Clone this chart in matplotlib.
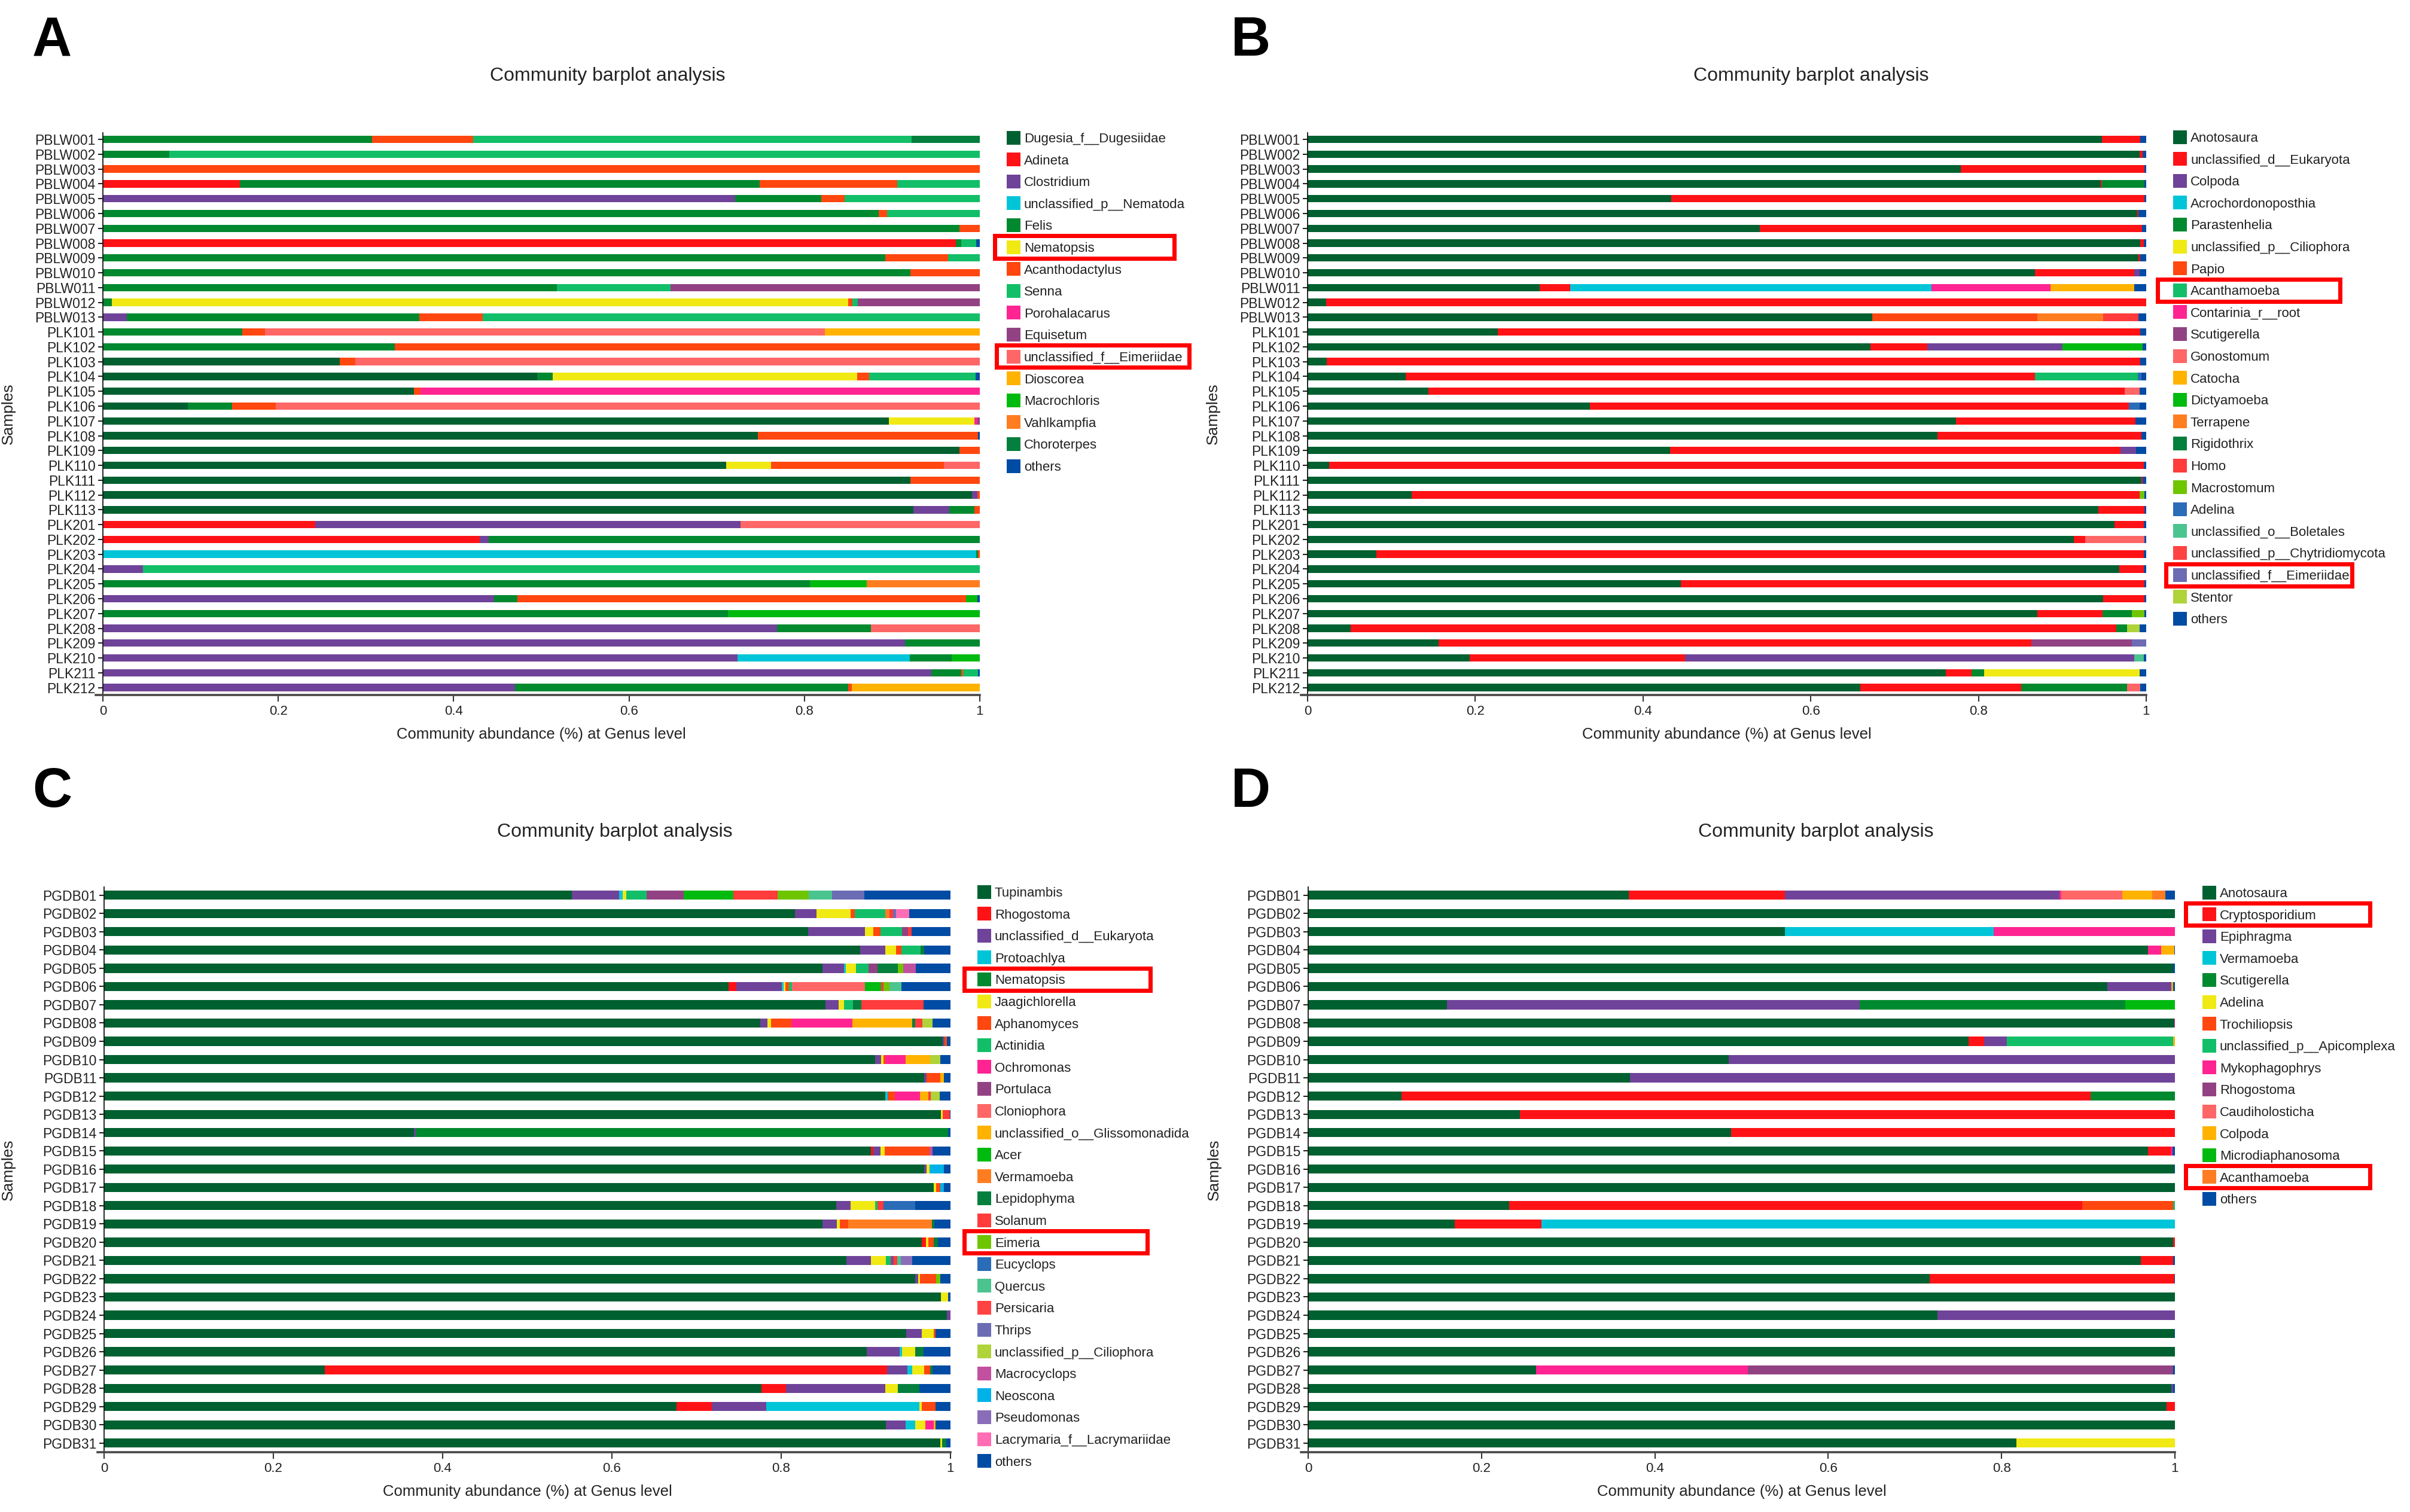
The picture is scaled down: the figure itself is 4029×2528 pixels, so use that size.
import matplotlib

matplotlib.use("Agg")
import matplotlib.pyplot as plt
import numpy as np
from matplotlib.patches import Rectangle

plt.rcParams["font.family"] = ["Liberation Sans", "DejaVu Sans"]

W, H = 4030, 2528

# shared colour order of the genus legends (last entry of every panel is "others")
PALETTE = [
    "#006030", "#FF1216", "#6F4399", "#00C5D8", "#00892F", "#F0E914", "#FF470F",
    "#12BF68", "#FF2492", "#924283", "#FF6666", "#FFB300", "#00BA10", "#FF7D21",
    "#047F3D", "#FF3B3B", "#6EC500", "#2B6CB8", "#4CC48F", "#FF4242", "#6C6CB5",
    "#AFD339", "#C3509F", "#00B2E8", "#8A6DB8", "#FF6EB4",
]
OTHERS_COLOR = "#004BA3"

# ---------------- panel A ----------------
A_SAMPLES = [f"PBLW{i:03d}" for i in range(1, 14)] + [f"PLK{i}" for i in range(101, 114)] + [f"PLK{i}" for i in range(201, 213)]
A_GENERA = [
    "Dugesia_f__Dugesiidae", "Adineta", "Clostridium", "unclassified_p__Nematoda", "Felis",
    "Nematopsis", "Acanthodactylus", "Senna", "Porohalacarus", "Equisetum",
    "unclassified_f__Eimeriidae", "Dioscorea", "Macrochloris", "Vahlkampfia", "Choroterpes", "others",
]
A_ABUND = [
    {4: .307, 6: .115, 7: .500, 14: .078},
    {4: .076, 7: .924},
    {6: 1.0},
    {1: .156, 4: .593, 6: .157, 7: .094},
    {2: .721, 4: .098, 6: .027, 7: .154},
    {4: .885, 6: .009, 7: .106},
    {4: .977, 6: .023},
    {1: .973, 4: .006, 7: .017, 15: .004},
    {4: .892, 6: .072, 7: .036},
    {4: .921, 6: .079},
    {4: .518, 7: .129, 9: .353},
    {4: .010, 5: .840, 6: .005, 7: .006, 9: .139},
    {2: .027, 4: .334, 6: .072, 7: .567},
    {4: .159, 6: .026, 10: .638, 11: .177},
    {4: .333, 6: .667},
    {0: .270, 6: .018, 10: .712},
    {0: .495, 4: .018, 5: .347, 6: .014, 7: .121, 15: .005},
    {0: .355, 6: .007, 8: .638},
    {0: .097, 4: .050, 6: .050, 10: .803},
    {0: .896, 5: .098, 8: .003, 9: .003},
    {0: .747, 6: .251, 15: .002},
    {0: .977, 6: .023},
    {0: .711, 5: .051, 6: .197, 10: .041},
    {0: .921, 6: .079},
    {0: .991, 2: .006, 6: .003},
    {0: .924, 2: .041, 4: .029, 6: .006},
    {1: .242, 2: .485, 10: .273},
    {1: .430, 2: .010, 4: .560},
    {3: .996, 4: .002, 6: .002},
    {2: .046, 7: .954},
    {4: .806, 12: .065, 13: .129},
    {2: .446, 4: .027, 6: .511, 12: .013, 15: .003},
    {4: .713, 12: .287},
    {2: .769, 4: .107, 10: .124},
    {2: .915, 4: .085},
    {2: .724, 3: .196, 4: .048, 12: .032},
    {2: .945, 4: .034, 6: .002, 7: .017, 15: .002},
    {2: .470, 4: .380, 6: .004, 11: .146},
]

# ---------------- panel B ----------------
B_SAMPLES = A_SAMPLES
B_GENERA = [
    "Anotosaura", "unclassified_d__Eukaryota", "Colpoda", "Acrochordonoposthia", "Parastenhelia",
    "unclassified_p__Ciliophora", "Papio", "Acanthamoeba", "Contarinia_r__root", "Scutigerella",
    "Gonostomum", "Catocha", "Dictyamoeba", "Terrapene", "Rigidothrix", "Homo", "Macrostomum",
    "Adelina", "unclassified_o__Boletales", "unclassified_p__Chytridiomycota",
    "unclassified_f__Eimeriidae", "Stentor", "others",
]
B_ABUND = [
    {0: .947, 1: .046, 22: .007},
    {0: .992, 1: .004, 22: .004},
    {0: .779, 1: .219, 22: .002},
    {0: .946, 1: .001, 4: .051, 22: .002},
    {0: .434, 1: .564, 22: .002},
    {0: .989, 1: .002, 22: .009},
    {0: .539, 1: .456, 22: .005},
    {0: .993, 1: .004, 22: .003},
    {0: .991, 1: .002, 22: .007},
    {0: .867, 1: .119, 2: .006, 22: .008},
    {0: .277, 1: .036, 3: .431, 8: .142, 11: .100, 22: .014},
    {0: .022, 1: .978},
    {0: .673, 6: .197, 13: .079, 15: .042, 22: .009},
    {0: .227, 1: .766, 22: .007},
    {0: .671, 1: .068, 2: .161, 12: .096, 22: .004},
    {0: .023, 1: .970, 22: .007},
    {0: .117, 1: .750, 7: .123, 17: .004, 22: .006},
    {0: .144, 1: .830, 10: .018, 22: .008},
    {0: .337, 1: .642, 17: .013, 22: .008},
    {0: .773, 1: .214, 22: .013},
    {0: .751, 1: .243, 22: .006},
    {0: .432, 1: .537, 2: .019, 22: .012},
    {0: .026, 1: .971, 22: .003},
    {0: .994, 1: .002, 22: .004},
    {0: .124, 1: .868, 16: .006, 22: .002},
    {0: .943, 1: .055, 22: .002},
    {0: .962, 1: .035, 22: .003},
    {0: .914, 1: .013, 10: .071, 22: .002},
    {0: .082, 1: .915, 22: .003},
    {0: .968, 1: .029, 22: .003},
    {0: .445, 1: .553, 22: .002},
    {0: .949, 1: .049, 22: .002},
    {0: .870, 1: .078, 4: .035, 16: .015, 22: .002},
    {0: .051, 1: .913, 4: .013, 21: .015, 22: .008},
    {0: .156, 1: .707, 9: .120, 20: .017},
    {0: .193, 1: .257, 2: .536, 18: .011, 22: .003},
    {0: .761, 1: .031, 4: .015, 5: .185, 22: .008},
    {0: .659, 1: .192, 4: .126, 10: .016, 22: .007},
]

# ---------------- panel C ----------------
C_SAMPLES = [f"PGDB{i:02d}" for i in range(1, 32)]
C_GENERA = [
    "Tupinambis", "Rhogostoma", "unclassified_d__Eukaryota", "Protoachlya", "Nematopsis",
    "Jaagichlorella", "Aphanomyces", "Actinidia", "Ochromonas", "Portulaca", "Cloniophora",
    "unclassified_o__Glissomonadida", "Acer", "Vermamoeba", "Lepidophyma", "Solanum", "Eimeria",
    "Eucyclops", "Quercus", "Persicaria", "Thrips", "unclassified_p__Ciliophora", "Macrocyclops",
    "Neoscona", "Pseudomonas", "Lacrymaria_f__Lacrymariidae", "others",
]
C_ABUND = [
    {0: .552, 2: .056, 3: .004, 5: .004, 7: .024, 9: .044, 12: .059, 15: .052, 16: .037, 18: .027, 20: .038, 26: .102},
    {0: .816, 2: .026, 5: .040, 6: .005, 7: .036, 13: .005, 15: .004, 20: .004, 25: .015, 26: .049},
    {0: .832, 2: .067, 5: .010, 6: .008, 7: .026, 9: .007, 15: .004, 26: .046},
    {0: .893, 2: .030, 5: .013, 6: .006, 7: .023, 14: .004, 26: .031},
    {0: .849, 2: .025, 3: .002, 5: .012, 7: .015, 9: .011, 14: .024, 16: .006, 22: .015, 26: .041},
    {0: .738, 1: .009, 2: .054, 3: .002, 5: .002, 6: .004, 7: .004, 10: .086, 12: .019, 15: .003, 16: .007, 18: .014, 26: .058},
    {0: .852, 2: .016, 5: .006, 7: .011, 14: .010, 15: .073, 26: .032},
    {0: .775, 2: .009, 5: .004, 6: .024, 8: .072, 11: .071, 14: .003, 15: .009, 21: .012, 26: .021},
    {0: .991, 2: .002, 6: .003, 26: .004},
    {0: .911, 2: .007, 5: .003, 6: .002, 8: .024, 11: .029, 21: .012, 26: .012},
    {0: .969, 2: .003, 6: .016, 11: .004, 26: .008},
    {0: .923, 3: .003, 6: .008, 8: .030, 11: .010, 15: .003, 21: .010, 26: .013},
    {0: .989, 5: .002, 15: .008, 26: .001},
    {0: .366, 2: .002, 4: .629, 26: .003},
    {0: .906, 1: .003, 2: .008, 5: .005, 6: .053, 22: .004, 26: .021},
    {0: .969, 2: .003, 5: .003, 23: .017, 26: .008},
    {0: .980, 5: .003, 6: .005, 23: .004, 26: .008},
    {0: .865, 2: .017, 5: .029, 7: .003, 15: .007, 17: .037, 26: .042},
    {0: .849, 2: .017, 5: .003, 6: .010, 13: .099, 14: .003, 26: .019},
    {0: .966, 1: .005, 5: .003, 6: .006, 14: .005, 26: .015},
    {0: .877, 2: .029, 5: .018, 7: .005, 9: .004, 15: .004, 18: .004, 24: .014, 26: .045},
    {0: .958, 2: .004, 5: .002, 6: .019, 16: .005, 26: .012},
    {0: .989, 5: .008, 26: .003},
    {0: .996, 2: .004},
    {0: .948, 2: .018, 5: .014, 6: .002, 26: .018},
    {0: .901, 2: .039, 3: .003, 5: .015, 14: .010, 26: .032},
    {0: .261, 1: .664, 2: .024, 3: .006, 5: .014, 6: .007, 14: .003, 26: .021},
    {0: .777, 1: .029, 2: .117, 5: .015, 14: .025, 26: .037},
    {0: .676, 1: .042, 2: .064, 3: .181, 5: .003, 6: .016, 26: .018},
    {0: .924, 2: .023, 3: .011, 5: .012, 8: .010, 11: .002, 26: .018},
    {0: .988, 5: .002, 14: .005, 26: .005},
]

# ---------------- panel D ----------------
D_SAMPLES = C_SAMPLES
D_GENERA = [
    "Anotosaura", "Cryptosporidium", "Epiphragma", "Vermamoeba", "Scutigerella", "Adelina",
    "Trochiliopsis", "unclassified_p__Apicomplexa", "Mykophagophrys", "Rhogostoma",
    "Caudiholosticha", "Colpoda", "Microdiaphanosoma", "Acanthamoeba", "others",
]
D_ABUND = [
    {0: .370, 1: .180, 2: .317, 8: .002, 10: .070, 11: .035, 13: .015, 14: .011},
    {0: 1.0},
    {0: .550, 3: .241, 8: .209},
    {0: .969, 8: .015, 11: .015, 14: .001},
    {0: .998, 14: .002},
    {0: .922, 2: .074, 11: .002, 14: .002},
    {0: .160, 2: .476, 4: .307, 12: .057},
    {0: .999, 8: .001},
    {0: .762, 1: .018, 2: .026, 7: .192, 11: .002},
    {0: .485, 2: .515},
    {0: .371, 2: .629},
    {0: .108, 1: .795, 4: .097},
    {0: .244, 1: .756},
    {0: .488, 1: .512},
    {0: .969, 1: .026, 8: .002, 14: .003},
    {0: .999, 14: .001},
    {0: 1.0},
    {0: .232, 1: .661, 6: .105, 7: .002},
    {0: .169, 1: .100, 3: .731},
    {0: .998, 1: .002},
    {0: .961, 1: .037, 14: .002},
    {0: .717, 1: .282, 14: .001},
    {0: 1.0},
    {0: .726, 2: .274},
    {0: .999, 14: .001},
    {0: 1.0},
    {0: .263, 8: .244, 9: .491, 14: .002},
    {0: .996, 2: .002, 14: .002},
    {0: .990, 1: .010},
    {0: 1.0},
    {0: .817, 5: .183},
]

X_TICKS = [0, 0.2, 0.4, 0.6, 0.8, 1.0]
X_TICKLABELS = ["0", "0.2", "0.4", "0.6", "0.8", "1"]

# layout in pixels of the 4030x2528 canvas
PANELS = [
    dict(letter="A", samples=A_SAMPLES, genera=A_GENERA, abund=A_ABUND, box=(172, 222, 1638, 1162),
         title_xy=(1016, 127), letter_xy=(54, 26), ylabel_x=26, legend_xy=(1683, 230),
         highlight=[(5, 1660, 1967), (10, 1663, 1992)]),
    dict(letter="B", samples=B_SAMPLES, genera=B_GENERA, abund=B_ABUND, box=(2186, 222, 3588, 1162),
         title_xy=(3028, 127), letter_xy=(2058, 26), ylabel_x=2040, legend_xy=(3633, 229),
         highlight=[(7, 3604, 3916), (20, 3618, 3936)]),
    dict(letter="C", samples=C_SAMPLES, genera=C_GENERA, abund=C_ABUND, box=(174, 1483, 1589, 2428),
         title_xy=(1028, 1391), letter_xy=(54, 1282), ylabel_x=26, legend_xy=(1634, 1491),
         highlight=[(4, 1609, 1927), (16, 1609, 1922)]),
    dict(letter="D", samples=D_SAMPLES, genera=D_GENERA, abund=D_ABUND, box=(2187, 1483, 3636, 2428),
         title_xy=(3036, 1391), letter_xy=(2058, 1282), ylabel_x=2042, legend_xy=(3682, 1492),
         highlight=[(1, 3651, 3966), (13, 3651, 3966)]),
]

LEGEND_STEP = 36.6
PATCH = 23


def fx(x):
    return x / W


def fy(y):
    return 1 - y / H


def panel_colors(genera):
    return PALETTE[: len(genera) - 1] + [OTHERS_COLOR]


def draw_panel(fig, p):
    left, top, right, bottom = p["box"]
    ax = fig.add_axes([fx(left), fy(bottom), (right - left) / W, (bottom - top) / H])
    n = len(p["samples"])
    mat = np.zeros((n, len(p["genera"])))
    for i, row in enumerate(p["abund"]):
        for k, v in row.items():
            mat[i, k] = v
    mat = mat / mat.sum(axis=1, keepdims=True)
    colors = panel_colors(p["genera"])
    y = np.arange(n)
    acc = np.zeros(n)
    for k in range(mat.shape[1]):
        ax.barh(y, mat[:, k], left=acc, height=0.5, color=colors[k], linewidth=0)
        acc += mat[:, k]

    ax.set_xlim(0, 1)
    ax.set_ylim(n - 0.5, -0.45)
    ax.set_yticks(y)
    ax.set_yticklabels(p["samples"], fontsize=16.5, color="#222222")
    ax.set_xticks(X_TICKS)
    ax.set_xticklabels(X_TICKLABELS, fontsize=16, color="#222222")
    ax.tick_params(axis="y", length=6, width=1.5, pad=3, color="#222222")
    ax.tick_params(axis="x", length=8, width=1.5, pad=4, color="#333333")
    for side in ("top", "right"):
        ax.spines[side].set_visible(False)
    ax.spines["left"].set_linewidth(1.3)
    ax.spines["left"].set_color("#111111")
    ax.spines["bottom"].set_linewidth(2.6)
    ax.spines["bottom"].set_color("#4a4646")
    ax.spines["bottom"].set_bounds(-0.008, 1.0)

    ax.set_xlabel("Community abundance (%) at Genus level", fontsize=18.5, color="#222222")
    ax.xaxis.set_label_coords(0.5, -54 / (bottom - top))
    ax.set_ylabel("Samples", fontsize=19, color="#222222")
    ax.yaxis.set_label_coords((p["ylabel_x"] - left) / (right - left), 0.5)

    # title and panel letter
    tx, ty = p["title_xy"]
    fig.text(fx(tx), fy(ty), "Community barplot analysis", fontsize=23, ha="center", va="center", color="#222222")
    lx, ly = p["letter_xy"]
    fig.text(fx(lx), fy(ly), p["letter"], fontsize=66, fontweight="bold", ha="left", va="top")

    # legend
    gx, gy = p["legend_xy"]
    for i, (name, col) in enumerate(zip(p["genera"], colors)):
        cy = gy + i * LEGEND_STEP
        fig.patches.append(Rectangle((fx(gx), fy(cy + PATCH / 2)), PATCH / W, PATCH / H,
                                     transform=fig.transFigure, facecolor=col, edgecolor="none"))
        fig.text(fx(gx + PATCH + 6), fy(cy), name, fontsize=16, ha="left", va="center_baseline", color="#222222")

    # red highlight boxes
    lw_px = 7
    for idx, x0, x1 in p["highlight"]:
        cy = gy + idx * LEGEND_STEP
        y0, y1 = cy - 22 + lw_px / 2, cy + 22 - lw_px / 2
        x0, x1 = x0 + lw_px / 2, x1 - lw_px / 2
        fig.patches.append(Rectangle((fx(x0), fy(y1)), (x1 - x0) / W, (y1 - y0) / H,
                                     transform=fig.transFigure, facecolor="none",
                                     edgecolor="#FF0000", linewidth=lw_px * 72 / 100))
    return ax


def main():
    fig = plt.figure(figsize=(W / 100, H / 100), dpi=100)
    for p in PANELS:
        draw_panel(fig, p)
    fig.savefig("out.png", dpi=100, facecolor="white")
    plt.close(fig)


if __name__ == "__main__":
    main()
